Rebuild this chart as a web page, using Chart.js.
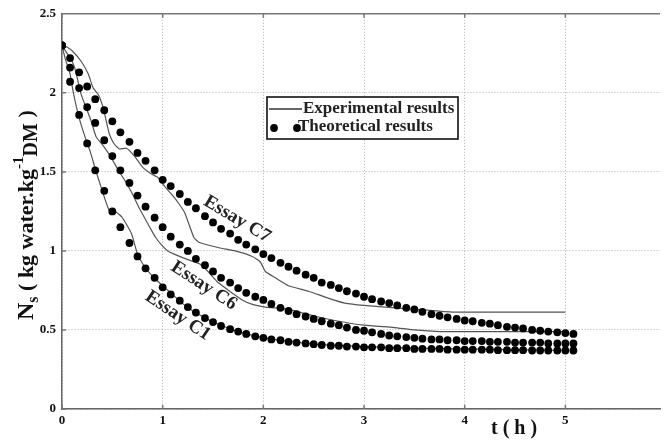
<!DOCTYPE html>
<html>
<head>
<meta charset="utf-8">
<script src="https://cdn.jsdelivr.net/npm/chart.js@4.4.0/dist/chart.umd.min.js"></script>
<style>
    html, body { margin: 0; padding: 0; background: #fff; }
    #wrap { width: 664px; height: 443px; position: relative; }
</style>
</head>
<body>
<div id="wrap"><canvas id="dryingChart"></canvas></div>
<script>
// theoretical results, one dot every 5 min
const thTime = [0, 0.08, 0.17, 0.25, 0.33, 0.42, 0.5, 0.58, 0.67, 0.75,
    0.83, 0.92, 1, 1.08, 1.17, 1.25, 1.33, 1.42, 1.5, 1.58,
    1.67, 1.75, 1.83, 1.92, 2, 2.08, 2.17, 2.25, 2.33, 2.42,
    2.5, 2.58, 2.67, 2.75, 2.83, 2.92, 3, 3.08, 3.17, 3.25,
    3.33, 3.42, 3.5, 3.58, 3.67, 3.75, 3.83, 3.92, 4, 4.08,
    4.17, 4.25, 4.33, 4.42, 4.5, 4.58, 4.67, 4.75, 4.83, 4.92,
    5, 5.08];
const thC7 = [2.30, 2.22, 2.13, 2.04, 1.96, 1.89, 1.82, 1.75, 1.69, 1.62,
    1.57, 1.51, 1.45, 1.41, 1.36, 1.31, 1.27, 1.22, 1.18, 1.14,
    1.11, 1.07, 1.04, 1.01, 0.98, 0.955, 0.925, 0.90, 0.875, 0.85,
    0.83, 0.80, 0.785, 0.765, 0.745, 0.73, 0.71, 0.695, 0.68, 0.67,
    0.655, 0.64, 0.63, 0.615, 0.60, 0.59, 0.58, 0.57, 0.56, 0.555,
    0.545, 0.54, 0.53, 0.52, 0.515, 0.51, 0.50, 0.495, 0.49, 0.485,
    0.48, 0.475];
const thC6 = [2.30, 2.16, 2.03, 1.91, 1.81, 1.70, 1.60, 1.51, 1.43, 1.35,
    1.28, 1.21, 1.15, 1.09, 1.04, 1.00, 0.95, 0.91, 0.87, 0.83,
    0.80, 0.765, 0.735, 0.71, 0.69, 0.665, 0.64, 0.62, 0.60, 0.585,
    0.57, 0.555, 0.54, 0.53, 0.515, 0.50, 0.495, 0.485, 0.475, 0.465,
    0.46, 0.455, 0.45, 0.445, 0.44, 0.44, 0.435, 0.435, 0.43, 0.43,
    0.43, 0.425, 0.425, 0.425, 0.42, 0.42, 0.42, 0.42, 0.415, 0.415,
    0.415, 0.415];
const thC1 = [2.30, 2.07, 1.86, 1.68, 1.51, 1.38, 1.25, 1.15, 1.05, 0.965,
    0.89, 0.83, 0.77, 0.725, 0.685, 0.645, 0.61, 0.575, 0.55, 0.525,
    0.505, 0.49, 0.475, 0.46, 0.45, 0.44, 0.435, 0.425, 0.42, 0.415,
    0.41, 0.405, 0.40, 0.40, 0.395, 0.395, 0.39, 0.39, 0.39, 0.385,
    0.385, 0.385, 0.38, 0.38, 0.38, 0.38, 0.375, 0.375, 0.375, 0.375,
    0.375, 0.375, 0.372, 0.372, 0.372, 0.372, 0.37, 0.37, 0.37, 0.37,
    0.37, 0.37];

// experimental results
const expC7Time = [0, 0.05, 0.11, 0.19, 0.26, 0.31, 0.36, 0.41, 0.44, 0.47,
    0.52, 0.57, 0.64, 0.72, 0.80, 0.88, 0.95, 1.03, 1.10, 1.16,
    1.22, 1.31, 1.36, 1.56, 1.72, 1.89, 1.97, 2.02, 2.12, 2.25,
    2.45, 2.65, 2.81, 3.0, 3.3, 3.63, 3.9, 5.0];
const expC7 = [2.30, 2.29, 2.26, 2.20, 2.12, 2.03, 1.99, 1.905, 1.82, 1.74,
    1.675, 1.645, 1.65, 1.60, 1.53, 1.49, 1.465, 1.40, 1.35, 1.30,
    1.24, 1.085, 1.055, 1.02, 1.0, 0.965, 0.93, 0.87, 0.83, 0.78,
    0.745, 0.70, 0.67, 0.655, 0.64, 0.625, 0.613, 0.613];

const expC6Time = [0, 0.05, 0.1, 0.13, 0.16, 0.19, 0.24, 0.29, 0.34, 0.41,
    0.48, 0.56, 0.63, 0.70, 0.76, 0.82, 0.88, 0.93, 1.0, 1.05,
    1.15, 1.25, 1.36, 1.45, 1.55, 1.79, 1.9, 2.02, 2.25, 2.5,
    2.71, 3.0, 3.3, 3.5, 3.75, 4.0, 4.5, 5.0];
const expC6 = [2.30, 2.25, 2.20, 2.15, 2.07, 1.99, 1.905, 1.82, 1.72, 1.665,
    1.60, 1.51, 1.44, 1.36, 1.28, 1.21, 1.14, 1.085, 1.03, 1.0,
    0.97, 0.945, 0.92, 0.87, 0.80, 0.69, 0.66, 0.645, 0.63, 0.59,
    0.56, 0.53, 0.515, 0.50, 0.49, 0.49, 0.49, 0.49];

const expC1Time = [0, 0.03, 0.08, 0.11, 0.145, 0.18, 0.23, 0.28, 0.33, 0.39,
    0.47, 0.54, 0.60, 0.69, 0.75, 0.82, 0.9, 1.0, 1.25, 1.5,
    1.75, 2.0, 2.5, 3.0, 3.5, 4.0, 4.5, 5.0];
const expC1 = [2.30, 2.22, 2.12, 2.01, 1.905, 1.82, 1.72, 1.63, 1.52, 1.40,
    1.255, 1.245, 1.21, 1.11, 0.98, 0.90, 0.84, 0.78, 0.64, 0.55,
    0.49, 0.45, 0.41, 0.395, 0.385, 0.38, 0.375, 0.37];

const xTicks = [0, 1, 2, 3, 4, 5];
const yTicks = [0, 0.5, 1, 1.5, 2, 2.5];

// curve labels: text, anchor (t, Ns), angle in degrees
const curveLabels = [
    { text: 'Essay C7', t: 1.74, v: 1.20, angle: 31 },
    { text: 'Essay C6', t: 1.41, v: 0.78, angle: 33 },
    { text: 'Essay C1', t: 1.15, v: 0.59, angle: 34 }
];

const serif = '"Liberation Serif", "Times New Roman", serif';

function toPoints(xs, ys) {
    return xs.map((x, i) => ({ x: x, y: ys[i] }));
}

function dotSet(label, ys) {
    return {
        label: label,
        data: toPoints(thTime, ys),
        showLine: false,
        pointRadius: 3.9,
        pointBackgroundColor: '#000',
        pointBorderWidth: 0
    };
}

function lineSet(label, xs, ys) {
    return {
        label: label,
        data: toPoints(xs, ys),
        showLine: true,
        borderColor: '#555',
        borderWidth: 1.2,
        pointRadius: 0,
        tension: 0.15
    };
}

const extras = {
    id: 'extras',
    afterDraw(chart) {
        const ctx = chart.ctx;
        const area = chart.chartArea;
        const xs = chart.scales.x;
        const ys = chart.scales.y;

        ctx.save();
        // top frame line + small inward ticks
        ctx.strokeStyle = '#777';
        ctx.lineWidth = 1.5;
        ctx.beginPath();
        ctx.moveTo(area.left, area.top);
        ctx.lineTo(area.right, area.top);
        xTicks.forEach(t => {
            const px = xs.getPixelForValue(t);
            ctx.moveTo(px, area.top);
            ctx.lineTo(px, area.top + 4);
            ctx.moveTo(px, area.bottom);
            ctx.lineTo(px, area.bottom - 4);
        });
        yTicks.forEach(v => {
            const py = ys.getPixelForValue(v);
            ctx.moveTo(area.left, py);
            ctx.lineTo(area.left + 4, py);
        });
        ctx.stroke();

        // legend box
        const lx = 267, ly = 97, lw = 191, lh = 42;
        ctx.fillStyle = '#fff';
        ctx.fillRect(lx, ly, lw, lh);
        ctx.strokeStyle = '#111';
        ctx.lineWidth = 1.6;
        ctx.strokeRect(lx, ly, lw, lh);
        ctx.strokeStyle = '#333';
        ctx.lineWidth = 1.4;
        ctx.beginPath();
        ctx.moveTo(lx + 2, ly + 12);
        ctx.lineTo(lx + 35, ly + 12);
        ctx.stroke();
        ctx.fillStyle = '#000';
        [lx + 7, lx + 30].forEach(cx => {
            ctx.beginPath();
            ctx.arc(cx, ly + 31, 3.9, 0, Math.PI * 2);
            ctx.fill();
        });
        ctx.font = 'bold 17px ' + serif;
        ctx.textBaseline = 'middle';
        ctx.textAlign = 'left';
        ctx.fillStyle = '#222';
        ctx.fillText('Experimental results', lx + 36, ly + 12);
        ctx.fillText('Theoretical results', lx + 31, ly + 30);

        // curve labels
        ctx.font = 'bold 19px ' + serif;
        ctx.textAlign = 'center';
        curveLabels.forEach(l => {
            ctx.save();
            ctx.translate(xs.getPixelForValue(l.t), ys.getPixelForValue(l.v));
            ctx.rotate(l.angle * Math.PI / 180);
            ctx.fillText(l.text, 0, 0);
            ctx.restore();
        });

        // x axis title
        ctx.font = 'bold 20px ' + serif;
        ctx.textAlign = 'center';
        ctx.fillStyle = '#111';
        ctx.fillText('t ( h )', xs.getPixelForValue(4.49), area.bottom + 20);

        // y axis title with sub/superscripts
        ctx.save();
        ctx.translate(33, 320);
        ctx.rotate(-Math.PI / 2);
        ctx.textAlign = 'left';
        ctx.textBaseline = 'alphabetic';
        const parts = [
            { s: 'N', size: 24, dy: 0 },
            { s: 's', size: 16, dy: 5 },
            { s: ' ( kg water.kg', size: 22, dy: 0 },
            { s: '-1', size: 15, dy: -10 },
            { s: 'DM', size: 20, dy: 4 },
            { s: ' )', size: 22, dy: 0 }
        ];
        let cx = 0;
        parts.forEach(p => {
            ctx.font = 'bold ' + p.size + 'px ' + serif;
            ctx.fillText(p.s, cx, p.dy);
            cx += ctx.measureText(p.s).width;
        });
        ctx.restore();
        ctx.restore();
    }
};

const tickFont = { family: serif, size: 13, weight: 'bold' };

const ctx = document.getElementById('dryingChart');
new Chart(ctx, {
    type: 'scatter',
    data: {
        datasets: [
            dotSet('Theoretical C7', thC7),
            dotSet('Theoretical C6', thC6),
            dotSet('Theoretical C1', thC1),
            lineSet('Experimental C7', expC7Time, expC7),
            lineSet('Experimental C6', expC6Time, expC6),
            lineSet('Experimental C1', expC1Time, expC1)
        ]
    },
    options: {
        responsive: true,
        maintainAspectRatio: false,
        animation: false,
        devicePixelRatio: 1,
        layout: { padding: { top: 13, left: 0, right: 0, bottom: 0 } },
        plugins: {
            legend: { display: false },
            tooltip: { enabled: false }
        },
        scales: {
            x: {
                type: 'linear',
                min: 0,
                max: 5.94,
                afterBuildTicks: scale => {
                    scale.ticks = xTicks.map(v => ({ value: v }));
                },
                afterFit: scale => { scale.height = 34; },
                ticks: {
                    color: '#111',
                    padding: 4,
                    font: tickFont,
                    callback: v => String(v)
                },
                grid: { color: '#b0b0b0', lineWidth: 1, drawTicks: false },
                border: { color: '#666', width: 1.5, dash: [1, 2] }
            },
            y: {
                min: 0,
                max: 2.5,
                afterBuildTicks: scale => {
                    scale.ticks = yTicks.map(v => ({ value: v }));
                },
                afterFit: scale => { scale.width = 62; },
                ticks: {
                    color: '#111',
                    padding: 6,
                    font: tickFont,
                    callback: v => String(v)
                },
                grid: { color: '#b0b0b0', lineWidth: 1, drawTicks: false },
                border: { color: '#666', width: 1.5, dash: [1, 2] }
            }
        }
    },
    plugins: [extras]
});
</script>
</body>
</html>
